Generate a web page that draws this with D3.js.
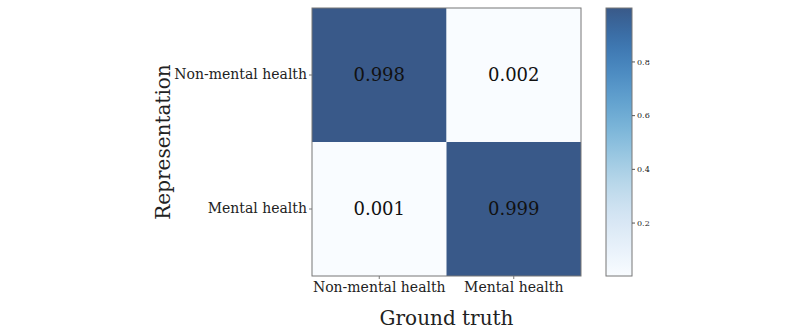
<!DOCTYPE html>
<html>
<head>
<meta charset="utf-8">
<script src="https://cdn.jsdelivr.net/npm/d3@7"></script>
<style>
  body { margin: 0; background: #fff; }
  text { font-family: "DejaVu Serif", serif; fill: #222; }
</style>
</head>
<body>
<svg width="800" height="333"></svg>
<script>
// Confusion matrix values (rows: representation, columns: ground truth)
const rowLabels = ["Non-mental health", "Mental health"];
const colLabels = ["Non-mental health", "Mental health"];
const values = [
  [0.998, 0.002],
  [0.001, 0.999]
];
const colorbarTicks = [0.2, 0.4, 0.6, 0.8];

const svg = d3.select("svg");
const plot = { left: 312, top: 8, width: 269, height: 268 };
const cbar = { left: 606, top: 8, width: 26, height: 268 };

const cells = [];
values.forEach((row, i) => row.forEach((v, j) => cells.push({ r: rowLabels[i], c: colLabels[j], v })));

const vMin = d3.min(cells, d => d.v), vMax = d3.max(cells, d => d.v);

const x = d3.scaleBand().domain(colLabels).range([plot.left, plot.left + plot.width]);
const y = d3.scaleBand().domain(rowLabels).range([plot.top, plot.top + plot.height]);
const color = d3.scaleSequential(d3.interpolateBlues).domain([vMin, vMax]);

// cells
svg.append("g").selectAll("rect")
  .data(cells)
  .join("rect")
  .attr("x", d => x(d.c))
  .attr("y", d => y(d.r))
  .attr("width", x.bandwidth())
  .attr("height", y.bandwidth())
  .attr("fill", d => color(d.v))
  .attr("fill-opacity", 0.8);

svg.append("g").selectAll("text")
  .data(cells)
  .join("text")
  .attr("x", d => x(d.c) + x.bandwidth() / 2)
  .attr("y", d => y(d.r) + y.bandwidth() / 2)
  .attr("dy", "0.35em")
  .attr("text-anchor", "middle")
  .style("font-size", "18px")
  .style("fill", "#111")
  .text(d => d.v.toFixed(3));

// frame
svg.append("rect")
  .attr("x", plot.left).attr("y", plot.top)
  .attr("width", plot.width).attr("height", plot.height)
  .attr("fill", "none").attr("stroke", "#777").attr("stroke-width", 1);

// axes
const xAxis = svg.append("g")
  .attr("transform", `translate(0,${plot.top + plot.height})`)
  .call(d3.axisBottom(x).tickSize(3).tickPadding(3));
xAxis.select(".domain").remove();
xAxis.selectAll("line").attr("stroke", "#777");
xAxis.selectAll("text").style("font-size", "14px").style("font-family", "DejaVu Serif, serif").attr("fill", "#222");

const yAxis = svg.append("g")
  .attr("transform", `translate(${plot.left},0)`)
  .call(d3.axisLeft(y).tickSize(3).tickPadding(2));
yAxis.select(".domain").remove();
yAxis.selectAll("line").attr("stroke", "#777");
yAxis.selectAll("text").style("font-size", "14px").style("font-family", "DejaVu Serif, serif").attr("fill", "#222");

// axis titles
svg.append("text")
  .attr("x", plot.left + plot.width / 2)
  .attr("y", 325)
  .attr("text-anchor", "middle")
  .style("font-size", "20px")
  .text("Ground truth");

svg.append("text")
  .attr("transform", `translate(170,${plot.top + plot.height / 2}) rotate(-90)`)
  .attr("text-anchor", "middle")
  .style("font-size", "20px")
  .text("Representation");

// colorbar
const defs = svg.append("defs");
const grad = defs.append("linearGradient")
  .attr("id", "cb").attr("x1", 0).attr("y1", 1).attr("x2", 0).attr("y2", 0);
d3.range(0, 1.0001, 0.05).forEach(t => {
  grad.append("stop")
    .attr("offset", t)
    .attr("stop-color", d3.interpolateBlues(t));
});

svg.append("rect")
  .attr("x", cbar.left).attr("y", cbar.top)
  .attr("width", cbar.width).attr("height", cbar.height)
  .attr("fill", "url(#cb)").attr("fill-opacity", 0.8)
  .attr("stroke", "#777").attr("stroke-width", 1);

const cScale = d3.scaleLinear().domain([vMin, vMax]).range([cbar.top + cbar.height, cbar.top]);
const cAxis = svg.append("g")
  .attr("transform", `translate(${cbar.left + cbar.width},0)`)
  .call(d3.axisRight(cScale).tickValues(colorbarTicks).tickFormat(d3.format(".1f")).tickSize(3).tickPadding(2));
cAxis.select(".domain").remove();
cAxis.selectAll("line").attr("stroke", "#555");
cAxis.selectAll("text").style("font-size", "8px").style("font-family", "DejaVu Serif, serif").attr("fill", "#333");
</script>
</body>
</html>
